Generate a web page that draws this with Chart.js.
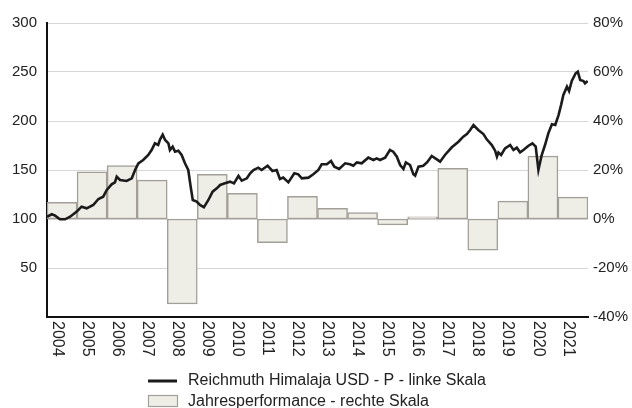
<!DOCTYPE html>
<html>
<head>
<meta charset="utf-8">
<script src="https://cdn.jsdelivr.net/npm/chart.js@4.4.1/dist/chart.umd.min.js"></script>
<style>
  html, body { margin: 0; padding: 0; background: #fff; }
  #wrap { width: 632px; height: 408px; }
</style>
</head>
<body>
<div id="wrap"><canvas id="chart" width="632" height="408"></canvas></div>
<script>
// Jahre (Balken / x-Achse)
const years = ["2004", "2005", "2006", "2007", "2008", "2009", "2010", "2011", "2012",
  "2013", "2014", "2015", "2016", "2017", "2018", "2019", "2020", "2021"];

// Jahresperformance in % (rechte Skala)
const yearlyPerf = [6.8, 19.3, 21.8, 15.9, -34.7, 18.2, 10.5, -9.7, 9.3,
  4.4, 2.6, -2.4, 0.9, 20.7, -12.7, 7.3, 25.7, 8.9];

// Kursverlauf (linke Skala): Zeitpunkt als Dezimaljahr und Wert
const priceDates = [
  2004.00, 2004.16, 2004.27, 2004.43, 2004.60, 2004.77, 2004.99,
  2005.15, 2005.32, 2005.54, 2005.71, 2005.87, 2005.99,
  2006.15, 2006.26, 2006.32, 2006.43, 2006.65, 2006.82, 2006.93,
  2007.04, 2007.20, 2007.37, 2007.48, 2007.59, 2007.70, 2007.76, 2007.85, 2007.93,
  2008.04, 2008.09, 2008.18, 2008.26, 2008.37, 2008.48, 2008.59, 2008.70, 2008.78, 2008.85, 2008.98,
  2009.09, 2009.22, 2009.37, 2009.51, 2009.65, 2009.76, 2009.92,
  2010.09, 2010.22, 2010.37, 2010.48, 2010.65, 2010.76, 2010.87,
  2011.03, 2011.14, 2011.34, 2011.50, 2011.64, 2011.75, 2011.86,
  2012.03, 2012.23, 2012.36, 2012.48, 2012.70, 2012.86,
  2013.03, 2013.14, 2013.31, 2013.45, 2013.56, 2013.72, 2013.92,
  2014.08, 2014.19, 2014.31, 2014.47, 2014.69, 2014.86, 2014.97,
  2015.08, 2015.25, 2015.41, 2015.52, 2015.64, 2015.75, 2015.86, 2015.94,
  2016.08, 2016.19, 2016.25, 2016.36, 2016.52, 2016.65, 2016.80, 2016.97,
  2017.08, 2017.24, 2017.47, 2017.69, 2017.85, 2017.97,
  2018.08, 2018.19, 2018.35, 2018.52, 2018.63, 2018.80, 2018.91, 2018.97,
  2019.02, 2019.11, 2019.24, 2019.41, 2019.52, 2019.63, 2019.74, 2019.85,
  2020.02, 2020.15, 2020.26, 2020.35, 2020.46, 2020.57, 2020.68, 2020.80, 2020.91,
  2021.02, 2021.11, 2021.18, 2021.30, 2021.37, 2021.46, 2021.59, 2021.66, 2021.74, 2021.85, 2021.90, 2021.99
];
const priceValues = [
  102.3, 104.8, 103.4, 99.7, 99.7, 102.3, 107.5,
  112.6, 110.9, 114.3, 120.4, 122.8, 129.6,
  135.4, 137.4, 143.2, 139.8, 138.8, 141.5, 150.0,
  156.8, 160.2, 165.3, 170.4, 177.2, 175.5, 181.0, 186.0, 180.6,
  177.2, 170.4, 173.8, 168.7, 169.7, 165.3, 156.8, 150.0, 133.0, 119.4, 117.7,
  114.3, 111.9, 119.4, 127.9, 131.3, 134.7, 136.4,
  138.1, 136.4, 143.9, 139.1, 141.5, 146.6, 150.0,
  152.4, 150.0, 154.4, 149.0, 150.0, 140.8, 142.2,
  137.4, 146.6, 145.6, 141.5, 142.2, 145.6,
  150.0, 155.8, 155.8, 159.2, 153.4, 151.0, 156.8,
  155.8, 154.4, 157.8, 156.8, 162.6, 160.2, 161.9,
  160.2, 162.6, 170.4, 168.7, 163.6, 155.1, 151.0, 157.8,
  155.1, 145.6, 144.2, 153.4, 154.4, 158.0, 164.3, 160.9,
  158.5, 165.3, 173.2, 178.9, 184.0, 186.7,
  190.8, 195.9, 190.8, 186.7, 181.3, 175.5, 169.7, 163.6,
  167.8, 165.3, 172.0, 175.5, 170.4, 172.8, 168.0, 170.4,
  174.8, 177.2, 173.8, 150.0, 165.3, 175.5, 187.4, 196.6, 196.0,
  206.0, 217.0, 226.5, 235.0, 230.6, 240.8, 248.7, 250.3, 241.8, 240.8, 238.5, 240.8
];

// Achsenteilung
const leftTicks = [0, 50, 100, 150, 200, 250, 300];
const rightTicks = [-40, -20, 0, 20, 40, 60, 80];

const fontFamily = "'Liberation Sans', Arial, sans-serif";
const textColor = "#222";

// Jahreszahlen senkrecht (von oben nach unten gelesen)
const yearLabels = {
  id: "yearLabels",
  afterDraw(chart) {
    const ctx = chart.ctx;
    const sx = chart.scales.x;
    ctx.save();
    ctx.font = "16px " + fontFamily;
    ctx.fillStyle = textColor;
    ctx.textAlign = "left";
    ctx.textBaseline = "middle";
    sx.ticks.forEach((t, i) => {
      const x = sx.getPixelForTick(i) - 5;
      ctx.save();
      ctx.translate(x, chart.chartArea.bottom + 4);
      ctx.rotate(Math.PI / 2);
      ctx.fillText(sx.getLabelForValue(t.value), 0, 0);
      ctx.restore();
    });
    ctx.restore();
  }
};

// Legende untereinander
const legendRows = {
  id: "legendRows",
  afterDraw(chart) {
    const ctx = chart.ctx;
    const ds = chart.data.datasets;
    ctx.save();
    ctx.font = "16px " + fontFamily;
    ctx.textBaseline = "middle";
    ctx.textAlign = "left";

    ctx.strokeStyle = ds[0].borderColor;
    ctx.lineWidth = 3;
    ctx.beginPath();
    ctx.moveTo(148, 381);
    ctx.lineTo(177, 381);
    ctx.stroke();
    ctx.fillStyle = textColor;
    ctx.fillText(ds[0].label, 188, 381);

    ctx.fillStyle = ds[1].backgroundColor;
    ctx.fillRect(148.5, 395.5, 29, 11);
    ctx.strokeStyle = ds[1].borderColor;
    ctx.lineWidth = 1.2;
    ctx.strokeRect(148.5, 395.5, 29, 11);
    ctx.fillStyle = textColor;
    ctx.fillText(ds[1].label, 188, 402);
    ctx.restore();
  }
};

new Chart(document.getElementById("chart"), {
  data: {
    labels: years,
    datasets: [
      {
        type: "line",
        label: "Reichmuth Himalaja USD - P - linke Skala",
        data: priceDates.map((d, i) => ({ x: d, y: priceValues[i] })),
        xAxisID: "xLine",
        yAxisID: "yLeft",
        borderColor: "#1b1b1b",
        borderWidth: 2.6,
        pointRadius: 0,
        tension: 0,
        order: 0
      },
      {
        type: "bar",
        label: "Jahresperformance - rechte Skala",
        data: yearlyPerf,
        xAxisID: "x",
        yAxisID: "yRight",
        backgroundColor: "#efeee6",
        borderColor: "#a29f98",
        borderWidth: 1.5,
        borderSkipped: false,
        grouped: false,
        barPercentage: 1,
        categoryPercentage: 1,
        order: 1
      }
    ]
  },
  options: {
    responsive: false,
    animation: false,
    devicePixelRatio: 1,
    layout: { padding: { top: 23, left: 0, right: 0, bottom: 0 } },
    plugins: {
      legend: { display: false },
      tooltip: { enabled: false }
    },
    scales: {
      x: {
        type: "category",
        offset: true,
        grid: { display: false },
        border: { display: true, color: "#111", width: 2 },
        ticks: { display: false },
        afterFit: s => { s.height = 91; }
      },
      xLine: {
        type: "linear",
        min: 2004,
        max: 2022,
        display: false
      },
      yLeft: {
        position: "left",
        min: 0,
        max: 300,
        afterBuildTicks: s => { s.ticks = leftTicks.map(v => ({ value: v })); },
        ticks: {
          callback: v => (v === 0 ? "" : v),
          font: { family: fontFamily, size: 15 },
          color: textColor,
          padding: 10
        },
        grid: { color: "#d6d6d6", lineWidth: 1, drawTicks: false },
        border: { display: true, color: "#111", width: 2 },
        afterFit: s => { s.width = 47; }
      },
      yRight: {
        position: "right",
        min: -40,
        max: 80,
        afterBuildTicks: s => { s.ticks = rightTicks.map(v => ({ value: v })); },
        ticks: {
          callback: v => v + "%",
          font: { family: fontFamily, size: 15 },
          color: textColor,
          padding: 5
        },
        grid: { display: false, drawTicks: false },
        border: { display: false },
        afterFit: s => { s.width = 44; }
      }
    }
  },
  plugins: [yearLabels, legendRows]
});
</script>
</body>
</html>
